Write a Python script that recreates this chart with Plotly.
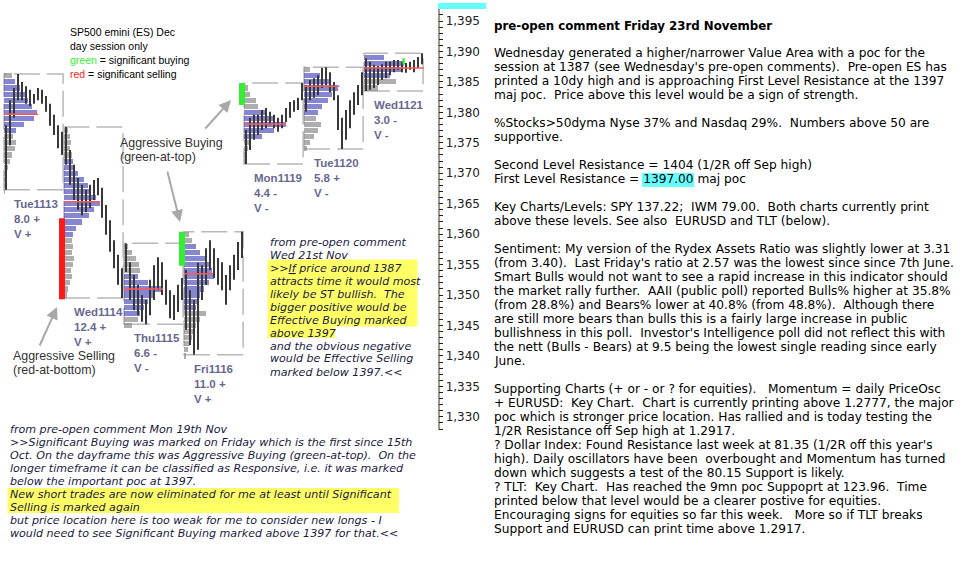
import plotly.graph_objects as go

W, H = 980, 564

# ---------------- data ----------------
days = ["Tue1113", "Wed1114", "Thu1115", "Fri1116", "Mon1119", "Tue1120", "Wed1121"]
range_txt = ["8.0 +", "12.4 +", "6.6 -", "11.0 +", "4.4 -", "5.8 +", "3.0 -"]
vol_txt = ["V +", "V +", "V -", "V +", "V -", "V -", "V -"]

# intraday bars (15 per day): lows and highs
bar_lo = [
    [1367.3, 1374.6, 1379.1, 1382.0, 1382.0, 1381.4, 1381.0, 1381.4, 1382.0, 1381.4, 1380.1, 1377.8, 1376.3, 1374.1, 1373.0],
    [1371.4, 1368.1, 1365.6, 1364.0, 1363.1, 1363.6, 1364.3, 1365.6, 1366.4, 1362.7, 1359.9, 1357.1, 1354.4, 1351.7, 1349.5],
    [1353.8, 1349.2, 1347.5, 1346.7, 1345.6, 1345.2, 1346.7, 1349.2, 1350.8, 1350.0, 1348.4, 1346.2, 1345.9, 1347.2, 1349.2],
    [1344.3, 1341.8, 1340.2, 1341.0, 1349.2, 1351.7, 1354.1, 1352.8, 1351.7, 1350.8, 1348.4, 1350.8, 1352.5, 1354.1, 1356.1],
    [1371.5, 1373.8, 1375.5, 1376.3, 1377.1, 1377.4, 1377.9, 1377.4, 1376.8, 1377.4, 1378.4, 1379.1, 1380.1, 1380.4, 1382.0],
    [1380.1, 1382.0, 1382.4, 1382.8, 1384.0, 1384.5, 1383.3, 1382.0, 1377.1, 1374.0, 1375.5, 1377.4, 1379.6, 1381.2, 1382.8],
    [1383.5, 1383.7, 1384.0, 1384.5, 1385.3, 1385.6, 1386.1, 1386.6, 1387.0, 1386.6, 1386.5, 1387.0, 1386.6, 1387.3, 1387.9],
]
bar_hi = [
    [1377.9, 1382.0, 1384.0, 1386.3, 1385.0, 1384.3, 1383.7, 1383.0, 1384.0, 1383.7, 1382.7, 1381.4, 1379.6, 1377.9, 1376.8],
    [1377.6, 1373.8, 1371.4, 1369.2, 1368.1, 1367.3, 1368.1, 1368.9, 1369.2, 1367.6, 1364.8, 1362.3, 1359.0, 1356.6, 1354.4],
    [1358.5, 1355.4, 1353.3, 1351.7, 1350.0, 1349.2, 1352.5, 1354.9, 1356.2, 1355.4, 1352.5, 1350.8, 1350.0, 1351.7, 1352.8],
    [1354.1, 1350.8, 1349.2, 1355.3, 1354.9, 1357.7, 1359.0, 1357.7, 1356.1, 1355.4, 1353.3, 1354.9, 1356.6, 1358.7, 1360.4],
    [1377.1, 1379.1, 1379.6, 1379.6, 1380.4, 1380.7, 1380.1, 1379.6, 1379.1, 1379.6, 1380.7, 1381.7, 1382.0, 1382.4, 1384.8],
    [1384.5, 1385.3, 1385.6, 1386.1, 1387.3, 1387.4, 1386.6, 1385.0, 1382.8, 1379.1, 1380.4, 1382.0, 1383.3, 1384.5, 1386.6],
    [1388.9, 1388.3, 1387.8, 1387.6, 1387.9, 1388.3, 1388.3, 1388.6, 1388.6, 1388.3, 1388.1, 1388.3, 1388.6, 1389.1, 1389.7],
]

# market profile per day: lowest row price and time-at-price from low to high
prof_low = [1367, 1350, 1345, 1340, 1372, 1374, 1384]
prof_tpo = [
    [1, 2, 3, 3, 4, 6, 8, 11, 12, 9, 12, 20, 30, 33, 28, 24, 21, 16, 11, 8],
    [3, 4, 6, 8, 7, 9, 10, 8, 9, 8, 9, 12, 18, 25, 30, 36, 32, 27, 24, 20, 14, 10, 9, 8, 6, 7, 6, 4],
    [8, 14, 16, 20, 24, 30, 38, 24, 14, 16, 15, 12, 8, 4],
    [2, 4, 6, 8, 10, 12, 16, 22, 12, 14, 16, 20, 25, 30, 28, 26, 22, 16, 12, 8, 5],
    [2, 3, 4, 6, 18, 30, 42, 30, 22, 14, 12, 6, 4],
    [3, 6, 10, 14, 17, 12, 14, 18, 24, 28, 34, 26, 16, 6],
    [14, 32, 26, 38, 40, 20],
]
va_low = [1377, 1360, 1347, 1348, 1376, 1380, 1386]
va_high = [1385, 1372, 1353, 1358, 1380, 1386, 1389]
poc = [1379.7, 1365.3, 1351.0, 1353.5, 1378.1, 1384.3, 1387.3]
poc_len = [34, 36, 39, 29, 42, 35, 60]

# significant buying / selling marks: (time in days, low, high, kind)
sig_time = [0.967, 2.967, 3.967, 6.66]
sig_low = [1349.3, 1354.8, 1381.2, 1387.8]
sig_high = [1362.6, 1360.4, 1384.8, 1388.9]
sig_kind = ["sell", "buy", "buy", "buy"]

ytick_vals = [1330, 1335, 1340, 1345, 1350, 1355, 1360, 1365, 1370, 1375, 1380, 1385, 1390, 1395]

# ---------------- layout geometry ----------------
X0_PX, DAY_PX, AXIS_PX = 4.0, 60.0, 437.5
Y_TOP_PX, Y_BOT_PX = 8.0, 430.0
PX_PER_PT, Y1395_PX = 6.09, 21.0
y_top = 1395 + (Y1395_PX - Y_TOP_PX) / PX_PER_PT
y_bot = 1395 - (Y_BOT_PX - Y1395_PX) / PX_PER_PT
x_lo = -X0_PX / DAY_PX
x_hi = (AXIS_PX - X0_PX) / DAY_PX
TPO_DAY = 1.0 / DAY_PX  # one tpo unit = one pixel


def pxx(x):
    return x / W


def pyy(y):
    return 1 - y / H


BLUE = "rgba(60,60,180,0.62)"
GRAY = "rgba(135,135,135,0.68)"
BARC = "#383838"
LABC = "#68688f"
TXT = "#1a1a40"

fig = go.Figure()

# price bars
xs, ys = [], []
for d in range(len(days)):
    n = len(bar_lo[d])
    for i in range(n):
        t = d + (i + 0.5) / n
        xs += [t, t, None]
        ys += [bar_lo[d][i], bar_hi[d][i], None]
fig.add_trace(go.Scatter(x=xs, y=ys, mode="lines", line=dict(color=BARC, width=2.0),
                         hoverinfo="skip"))

# profiles
for colr, inva in ((GRAY, False), (BLUE, True)):
    py_, wx, bs = [], [], []
    for d in range(len(days)):
        for k, v in enumerate(prof_tpo[d]):
            p = prof_low[d] + k
            isva = va_low[d] <= p <= va_high[d]
            if isva == inva:
                py_.append(p)
                wx.append(v * TPO_DAY)
                bs.append(d)
    fig.add_trace(go.Bar(y=py_, x=wx, base=bs, orientation="h", width=0.84,
                         marker=dict(color=colr, line=dict(width=0)), hoverinfo="skip"))

shapes = []
# day range boxes
for d in range(len(days)):
    shapes.append(dict(type="rect", xref="x", yref="y", x0=d, x1=d + 0.985,
                       y0=min(bar_lo[d]), y1=max(bar_hi[d]), layer="below",
                       line=dict(color="#b8b8b8", width=1.5, dash="26px,7px")))
# poc lines
for d in range(len(days)):
    shapes.append(dict(type="line", xref="x", yref="y", x0=d, x1=d + poc_len[d] / DAY_PX,
                       y0=poc[d], y1=poc[d], layer="above",
                       line=dict(color="#ff5a5a", width=1.5)))
# significant marks
for t, lo, hi, k in zip(sig_time, sig_low, sig_high, sig_kind):
    w = 0.1 if t < 6 else 0.04
    shapes.append(dict(type="rect", xref="x", yref="y", x0=t - w / 2, x1=t + w / 2, y0=lo, y1=hi,
                       layer="above", line=dict(width=0),
                       fillcolor="#ff1a1a" if k == "sell" else "#33ee33"))
# major poc marker (cyan) at top of the axis
shapes.append(dict(type="rect", xref="paper", yref="paper", x0=pxx(438), x1=pxx(486),
                   y0=pyy(9), y1=pyy(3), line=dict(width=0), fillcolor="#66ffff"))
# text highlights
shapes += [
    dict(type="rect", xref="paper", yref="paper", x0=pxx(267.5), x1=pxx(417.5), y0=pyy(326.5), y1=pyy(259.5),
         line=dict(width=0), fillcolor="#ffff66", layer="below"),
    dict(type="rect", xref="paper", yref="paper", x0=pxx(267.5), x1=pxx(335), y0=pyy(338), y1=pyy(326),
         line=dict(width=0), fillcolor="#ffff66", layer="below"),
    dict(type="rect", xref="paper", yref="paper", x0=pxx(7.5), x1=pxx(399), y0=pyy(513), y1=pyy(488),
         line=dict(width=0), fillcolor="#ffff66", layer="below"),
    dict(type="rect", xref="paper", yref="paper", x0=pxx(642), x1=pxx(694), y0=pyy(187), y1=pyy(173),
         line=dict(width=0), fillcolor="#66ffff", layer="below"),
]

ann = []


def txt(x, y, s, size=12, color="#000", family="DejaVu Sans", anchor="left"):
    ann.append(dict(x=pxx(x), y=pyy(y), xref="paper", yref="paper", text=s, showarrow=False,
                    xanchor=anchor, yanchor="middle", align="left",
                    font=dict(family=family, size=size, color=color)))


def fix(s):
    return s.replace("&", "&amp;").replace("<", "&lt;").replace(">", "&gt;").replace("  ", " \u00a0")


# day labels
for d in range(len(days)):
    ann.append(dict(x=d + 8 / DAY_PX, y=min(bar_lo[d]), xref="x", yref="y", showarrow=False,
                    text="<b>%s<br>%s<br>%s</b>" % (days[d], range_txt[d], vol_txt[d]),
                    xanchor="left", yanchor="top", yshift=-6, align="left",
                    font=dict(family="Liberation Sans", size=11.5, color=LABC)))

# legend text
LF = "Liberation Sans"
txt(68, 32, "SP500 emini (ES) Dec", 10.5, "#000", LF)
txt(68, 46, "day session only", 10.5, "#000", LF)
txt(68, 60, "<span style='color:#33ee33'>green</span> = significant buying", 10.5, "#000", LF)
txt(68, 74, "<span style='color:#ff2222'>red</span> = significant selling", 10.5, "#000", LF)
txt(118, 143, "Aggressive Buying", 12.4, "#333", LF)
txt(118, 157, "(green-at-top)", 12.4, "#333", LF)
txt(11, 356, "Aggressive Selling", 12.4, "#333", LF)
txt(11, 370, "(red-at-bottom)", 12.4, "#333", LF)

# arrows
for hx, hy, tx, ty in [(231, 100, 204, 130), (180, 222, 167, 170), (57, 307, 39, 347)]:
    ann.append(dict(x=pxx(hx), y=pyy(hy), xref="paper", yref="paper", text="", showarrow=True,
                    ax=tx - hx, ay=ty - hy, arrowhead=2, arrowsize=1.2, arrowwidth=2,
                    arrowcolor="#a8a8a8"))

# comment from Wed 21st
wed_lines = ["from pre-open comment", "Wed 21st Nov", ">>If price around 1387",
             "attracts time it would most", "likely be ST bullish.  The",
             "bigger positive would be", "Effective Buying marked", "above 1397",
             "and the obvious negative", "would be Effective Selling", "marked below 1397.<<"]
for i, s in enumerate(wed_lines):
    t = fix(s)
    if i == 2:
        t = "&gt;&gt;<u>If</u>" + fix(s[4:])
    txt(268, 242 + 13 * i, "<i>" + t + "</i>", 11.1, TXT)

# comment from Mon 19th
mon_lines = ["from pre-open comment Mon 19th Nov",
             ">>Significant Buying was marked on Friday which is the first since 15th",
             "Oct. On the dayframe this was Aggressive Buying (green-at-top).  On the",
             "longer timeframe it can be classified as Responsive, i.e. it was marked",
             "below the important poc at 1397.",
             "New short trades are now eliminated for me at least until Significant",
             "Selling is marked again",
             "but price location here is too weak for me to consider new longs - I",
             "would need to see Significant Buying marked above 1397 for that.<<"]
for i, s in enumerate(mon_lines):
    txt(8, 429 + 13 * i, "<i>" + fix(s) + "</i>", 11.1, TXT)

# right column
txt(492, 25.5, "<b>pre-open comment Friday 23rd November</b>", 11.8, "#000")
right_lines = [
    "Wednesday generated a higher/narrower Value Area with a poc for the",
    "session at 1387 (see Wednesday's pre-open comments).  Pre-open ES has",
    "printed a 10dy high and is approaching First Level Resistance at the 1397",
    "maj poc.  Price above this level would be a sign of strength.",
    "",
    "%Stocks>50dyma Nyse 37% and Nasdaq 29%.  Numbers above 50 are",
    "supportive.",
    "",
    "Second Level Resistance = 1404 (1/2R off Sep high)",
    "First Level Resistance = 1397.00 maj poc",
    "",
    "Key Charts/Levels: SPY 137.22;  IWM 79.00.  Both charts currently print",
    "above these levels. See also  EURUSD and TLT (below).",
    "",
    "Sentiment: My version of the Rydex Assets Ratio was slightly lower at 3.31",
    "(from 3.40).  Last Friday's ratio at 2.57 was the lowest since since 7th June.",
    "Smart Bulls would not want to see a rapid increase in this indicator should",
    "the market rally further.  AAII (public poll) reported Bulls% higher at 35.8%",
    "(from 28.8%) and Bears% lower at 40.8% (from 48.8%).  Although there",
    "are still more bears than bulls this is a fairly large increase in public",
    "bullishness in this poll.  Investor's Intelligence poll did not reflect this with",
    "the nett (Bulls - Bears) at 9.5 being the lowest single reading since early",
    "June.",
    "",
    "Supporting Charts (+ or - or ? for equities).   Momentum = daily PriceOsc",
    "+ EURUSD:  Key Chart.  Chart is currently printing above 1.2777, the major",
    "poc which is stronger price location. Has rallied and is today testing the",
    "1/2R Resistance off Sep high at 1.2917.",
    "? Dollar Index: Found Resistance last week at 81.35 (1/2R off this year's",
    "high). Daily oscillators have been  overbought and Momentum has turned",
    "down which suggests a test of the 80.15 Support is likely.",
    "? TLT:  Key Chart.  Has reached the 9mn poc Suppoprt at 123.96.  Time",
    "printed below that level would be a clearer postive for equities.",
    "Encouraging signs for equities so far this week.   More so if TLT breaks",
    "Support and EURUSD can print time above 1.2917.",
]
for i, s in enumerate(right_lines):
    if s:
        txt(492, 53 + 14 * i, fix(s), 12.2, "#000")

fig.update_layout(
    width=W, height=H, margin=dict(l=0, r=0, t=0, b=0),
    paper_bgcolor="white", plot_bgcolor="white", showlegend=False,
    barmode="overlay", bargap=0,
    xaxis=dict(domain=[0, AXIS_PX / W], range=[x_lo, x_hi], visible=False, fixedrange=True),
    yaxis=dict(domain=[1 - Y_BOT_PX / H, 1 - Y_TOP_PX / H], range=[y_bot, y_top], side="right",
               anchor="x", showgrid=False, zeroline=False, showline=True, linecolor="#a09888",
               linewidth=1.5, ticks="outside", ticklen=4, tickcolor="#222", tickwidth=1,
               tickvals=ytick_vals, tickformat=",d",
               tickfont=dict(family="DejaVu Sans", size=12, color="#222"),
               minor=dict(dtick=1, tick0=1330, ticks="outside", ticklen=4, tickcolor="#222",
                          tickwidth=1, showgrid=False),
               fixedrange=True),
    shapes=shapes, annotations=ann,
)

fig.write_html("out.html", config={"displayModeBar": False})
